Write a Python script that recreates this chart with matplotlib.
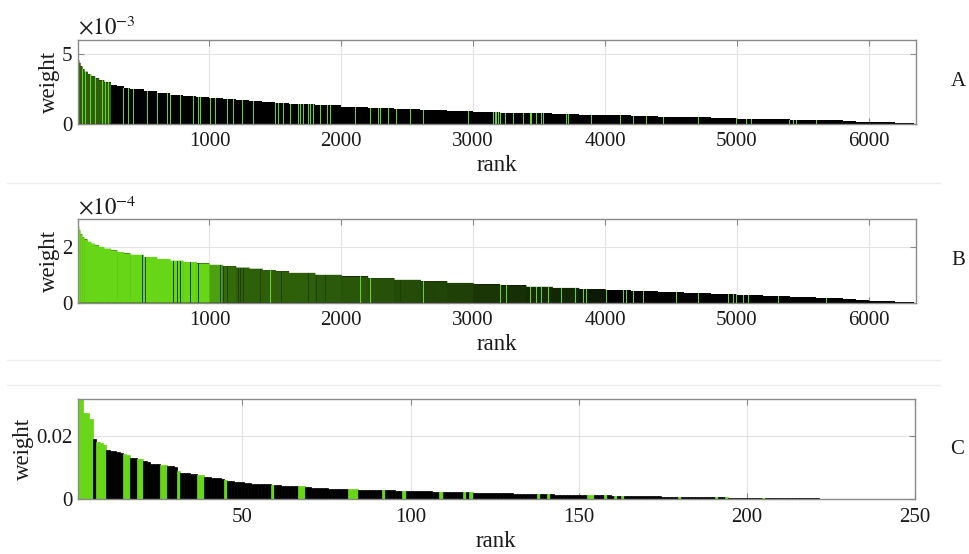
import numpy as np
import matplotlib
matplotlib.use("Agg")
import matplotlib.pyplot as plt
from matplotlib.lines import Line2D

plt.rcParams['font.family'] = ['Liberation Serif', 'DejaVu Serif']
plt.rcParams['mathtext.fontset'] = 'stix'

# ---------------- data ----------------
# Panels A and B: rank bins (left edges, last value = end) and weights per bin
AB_EDGES = [1, 5, 10, 20, 35, 50, 75, 100, 130, 160, 200, 250, 300, 350, 400, 500,
            600, 700, 800, 900, 1000, 1100, 1200, 1300, 1400, 1500, 1600, 1800, 2000,
            2200, 2400, 2600, 2800, 3000, 3200, 3400, 3600, 3800, 4000, 4200, 4400,
            4600, 4800, 5000, 5200, 5400, 5600, 5800, 5900, 6000, 6100, 6200, 6250,
            6300, 6340]

A_WEIGHT_E3 = [4.75, 4.55, 4.35, 4.10, 3.90, 3.72, 3.55, 3.40, 3.25, 3.10, 2.95, 2.80,
               2.68, 2.57, 2.47, 2.32, 2.18, 2.06, 1.97, 1.89, 1.81, 1.74, 1.67, 1.61,
               1.55, 1.49, 1.41, 1.31, 1.21, 1.13, 1.05, 0.98, 0.91, 0.84, 0.78, 0.73,
               0.68, 0.64, 0.60, 0.55, 0.51, 0.46, 0.42, 0.37, 0.33, 0.28, 0.23, 0.18,
               0.15, 0.12, 0.09, 0.06, 0.04, 0.02]
# share of green bars inside each bin
A_GREEN_SHARE = [0.45] * 11 + [0.0] * 43
A_GREEN_RANKS = [35, 61, 98, 136, 187, 212, 237, 351, 389, 427, 528, 604, 679, 705,
                 780, 881, 919, 932, 1008, 1045, 1058, 1134, 1184, 1248, 1323, 1336,
                 1475, 1500, 1525, 1563, 1588, 1614, 1677, 1689, 1715, 1753, 1765,
                 1790, 1841, 1894, 1917, 1929, 2005, 2081, 2106, 2194, 2220, 2283,
                 2295, 2359, 2421, 2523, 2624, 2965, 3154, 3167, 3179, 3192, 3205,
                 3242, 3306, 3381, 3432, 3444, 3482, 3520, 3533, 3710, 3722, 3810,
                 3899, 3924, 3962, 4114, 4215, 4316, 4442, 4707, 4997, 5073, 5111,
                 5401, 5427, 5452, 5604]

B_WEIGHT_E4 = [2.85, 2.72, 2.60, 2.45, 2.35, 2.27, 2.19, 2.12, 2.06, 2.00, 1.94, 1.88,
               1.82, 1.77, 1.72, 1.64, 1.57, 1.51, 1.46, 1.41, 1.36, 1.31, 1.26, 1.22,
               1.17, 1.13, 1.07, 1.00, 0.94, 0.88, 0.82, 0.77, 0.71, 0.66, 0.62, 0.57,
               0.53, 0.49, 0.46, 0.42, 0.39, 0.35, 0.31, 0.28, 0.24, 0.20, 0.16, 0.12,
               0.10, 0.07, 0.05, 0.03, 0.02, 0.01]
B_GREEN_SHARE = ([1.0] * 20 + [0.75, 0.5, 0.45, 0.45, 0.45, 0.45, 0.45, 0.42, 0.4,
                  0.38, 0.35, 0.32, 0.3, 0.25, 0.22, 0.2, 0.18, 0.12] + [0.0] * 16)
B_GREEN_RANKS = [1462, 1626, 1664, 1702, 1967, 2144, 2220, 2384, 2573, 2624, 3104,
                 3205, 3255, 3432, 3482, 3520, 3570, 3672, 3773, 3836, 3861, 4013,
                 4139, 4164, 4189, 4215, 4291, 4454, 4492, 4543, 4568, 4682, 4707,
                 4720, 4758, 4795, 4934, 4972, 4998, 5048, 5086, 5099, 5313, 5402,
                 5629, 5679]
B_DARK_RANKS = [490, 515, 730, 755, 780, 856, 919, 982, 1083, 1109, 1134, 1222, 1235,
                1260, 1330, 1390, 1545, 1580, 1750, 1810, 1880, 2050, 2300, 2450,
                2700, 2850, 2950]

# Panel C: 250 ranked weights
C_WEIGHT = [
    0.0317, 0.0317, 0.0272, 0.0271, 0.0253, 0.0190, 0.0180, 0.0177, 0.0171, 0.0155,
    0.0153, 0.0151, 0.0148, 0.0146, 0.0142, 0.0140, 0.0131, 0.0131, 0.0127, 0.0126,
    0.0120, 0.0119, 0.0111, 0.0110, 0.0110, 0.0107, 0.0107, 0.0105, 0.0104, 0.0102,
    0.0089, 0.0084, 0.0083, 0.0082, 0.0080, 0.0079, 0.0078, 0.0077, 0.0071, 0.0070,
    0.0068, 0.0067, 0.0066, 0.0064, 0.0061, 0.0058, 0.0057, 0.0056, 0.0055, 0.0053,
    0.0051, 0.0050, 0.0049, 0.0049, 0.0048, 0.0048, 0.0047, 0.0047, 0.0045, 0.0044,
    0.0044, 0.0043, 0.0043, 0.0043, 0.0042, 0.0042, 0.0042, 0.0041, 0.0038, 0.0038,
    0.0037, 0.0036, 0.0036, 0.0035, 0.0035, 0.0034, 0.0034, 0.0033, 0.0033, 0.0032,
    0.0032, 0.0031, 0.0031, 0.0031, 0.0030, 0.0030, 0.0030, 0.0030, 0.0029, 0.0029,
    0.0029, 0.0028, 0.0028, 0.0028, 0.0028, 0.0027, 0.0027, 0.0027, 0.0026, 0.0026,
    0.0026, 0.0026, 0.0025, 0.0025, 0.0025, 0.0025, 0.0024, 0.0024, 0.0024, 0.0024,
    0.0023, 0.0023, 0.0023, 0.0023, 0.0022, 0.0022, 0.0022, 0.0022, 0.0021, 0.0021,
    0.0021, 0.0021, 0.0020, 0.0020, 0.0020, 0.0020, 0.0019, 0.0019, 0.0019, 0.0019,
    0.0018, 0.0018, 0.0018, 0.0018, 0.0017, 0.0017, 0.0017, 0.0017, 0.0016, 0.0016,
    0.0016, 0.0016, 0.0015, 0.0015, 0.0015, 0.0015, 0.0014, 0.0014, 0.0014, 0.0014,
    0.0013, 0.0013, 0.0013, 0.0013, 0.0012, 0.0012, 0.0012, 0.0012, 0.0012, 0.0011,
    0.0011, 0.0011, 0.0011, 0.0011, 0.0010, 0.0010, 0.0010, 0.0010, 0.0010, 0.0009,
    0.0009, 0.0009, 0.0009, 0.0009, 0.0008, 0.0008, 0.0008, 0.0008, 0.0008, 0.0008,
    0.0007, 0.0007, 0.0007, 0.0007, 0.0007, 0.0007, 0.0007, 0.0006, 0.0006, 0.0006,
    0.0006, 0.0006, 0.0006, 0.0006, 0.0005, 0.0005, 0.0005, 0.0005, 0.0005, 0.0005,
    0.0005, 0.0004, 0.0004, 0.0004, 0.0004, 0.0004, 0.0004, 0.0004, 0.0004, 0.0004,
    0.0004, 0.0003, 0.0003, 0.0003, 0.0003, 0.0003, 0.0003, 0.0003, 0.0003, 0.0003,
    0.0003, 0.0002, 0.0002, 0.0002, 0.0002, 0.0002, 0.0002, 0.0002, 0.0002, 0.0002,
    0.0002, 0.00015, 0.00015, 0.00015, 0.00015, 0.0001, 0.0001, 0.0001, 0.0001, 0.0001,
    0.0001, 0.0001, 0.00008, 0.00008, 0.00006, 0.00006, 0.00005, 0.00004, 0.00003, 0.00002]
C_GREEN_RANKS = [1, 2, 3, 4, 5, 7, 8, 9, 15, 16, 19, 20, 26, 27, 31, 37, 38, 45, 59,
                 67, 68, 82, 83, 84, 92, 98, 109, 116, 118, 138, 141, 153, 154, 158,
                 161, 163, 180, 191, 194, 205, 228]

AB_XTICKS = [1000, 2000, 3000, 4000, 5000, 6000]
C_XTICKS = [50, 100, 150, 200, 250]
PANEL_TAGS = ['A', 'B', 'C']

# ---------------- style ----------------
GREEN = np.array([0.40, 0.84, 0.09])
BLACK = np.array([0.0, 0.0, 0.0])
SPINE = '#8a8a8a'
GRID = '#e3e3e3'
TXT = '#1a1a1a'
STRIPE_W = 6
OVERLAP = 4
FS_TICK = 15
FS_LAB = 16.5

W, H = 970, 554
fig = plt.figure(figsize=(W / 100, H / 100), dpi=100)

def ax_at(l, t, r, b):
    return fig.add_axes([l / W, 1 - b / H, (r - l) / W, (b - t) / H])

axA = ax_at(77.7, 39.7, 915.7, 123.7)
axB = ax_at(77.7, 219.0, 915.7, 302.7)
axC = ax_at(77.7, 398.7, 915.0, 499.3)

def style(ax):
    ax.set_axisbelow(True)
    ax.grid(True, color=GRID, linewidth=0.8)
    for s in ax.spines.values():
        s.set_color(SPINE)
        s.set_linewidth(1.0)
    ax.tick_params(direction='in', top=True, right=True, length=4, width=0.8,
                   color=SPINE, labelsize=FS_TICK, labelcolor=TXT, pad=4)
    ax.tick_params(axis='x', pad=6)
    ax.set_xlabel('rank', fontsize=FS_LAB, color=TXT, labelpad=3)
    ax.set_ylabel('weight', fontsize=FS_LAB, color=TXT, labelpad=1)

def binned_panel(ax, weights, scale, share, green_ranks, dark_ranks=()):
    edges = np.array(AB_EDGES, dtype=float)
    w = np.array(weights) * scale
    sh = np.array(share)
    # base: one seamless stepped black area
    ax.fill_between(edges, np.append(w, w[-1]), 0, step='post', color='black',
                    linewidth=0)
    # coloured bins on top
    idx = np.where(sh > 0)[0]
    if len(idx):
        cols = [tuple(GREEN * sh[i] + BLACK * (1 - sh[i])) for i in idx]
        widths = np.diff(edges)[idx] + OVERLAP
        bars = ax.bar(edges[idx], w[idx], width=widths, align='edge', color=cols,
                      linewidth=0)
        for b in bars:
            b.set_snap(False)
    def h_at(r):
        i = np.searchsorted(edges, r, side='right') - 1
        return w[min(max(i, 0), len(w) - 1)]
    gr = np.array(green_ranks, dtype=float)
    ax.bar(gr, [h_at(r) for r in gr], width=STRIPE_W, color=tuple(GREEN),
           linewidth=0)
    if len(dark_ranks):
        dr = np.array(dark_ranks, dtype=float)
        ax.bar(dr, [h_at(r) for r in dr], width=STRIPE_W,
               color=tuple(GREEN * 0.3), linewidth=0)
    ax.set_xlim(1, AB_EDGES[-1] + 15)
    ax.set_xticks(AB_XTICKS)

# Panel A
style(axA)
binned_panel(axA, A_WEIGHT_E3, 1e-3, A_GREEN_SHARE, A_GREEN_RANKS)
axA.set_ylim(0, 6e-3)
axA.set_yticks([0, 5e-3])
axA.set_yticklabels(['0', '5'])
axA.text(0.0, 1.0, r'$\times10^{-3}$', transform=axA.transAxes, fontsize=16.5,
         ha='left', va='bottom', color=TXT)

# Panel B
style(axB)
binned_panel(axB, B_WEIGHT_E4, 1e-4, B_GREEN_SHARE, B_GREEN_RANKS, B_DARK_RANKS)
axB.set_ylim(0, 3e-4)
axB.set_yticks([0, 2e-4])
axB.set_yticklabels(['0', '2'])
axB.text(0.0, 1.0, r'$\times10^{-4}$', transform=axB.transAxes, fontsize=16.5,
         ha='left', va='bottom', color=TXT)

# Panel C
style(axC)
cr = np.arange(1, len(C_WEIGHT) + 1)
ccol = [tuple(GREEN) if r in C_GREEN_RANKS else 'black' for r in cr]
axC.bar(cr, C_WEIGHT, width=1.0, color=ccol, edgecolor=ccol, linewidth=0.5)
axC.set_xlim(1, 250)
axC.set_ylim(0, max(C_WEIGHT))
axC.set_xticks(C_XTICKS)
axC.set_yticks([0, 0.02])
axC.set_yticklabels(['0', '0.02'])

# panel tags
for ax, tag in zip([axA, axB, axC], PANEL_TAGS):
    ax.text(1.042, 0.5, tag, transform=ax.transAxes, fontsize=15, color=TXT,
            ha='left', va='center')

# faint separators between stitched panels
for y in (183, 360, 385):
    fig.add_artist(Line2D([7 / W, 940 / W], [1 - y / H, 1 - y / H],
                          color='#efefef', linewidth=1.0))

fig.savefig('out.png', dpi=100, facecolor='white')
